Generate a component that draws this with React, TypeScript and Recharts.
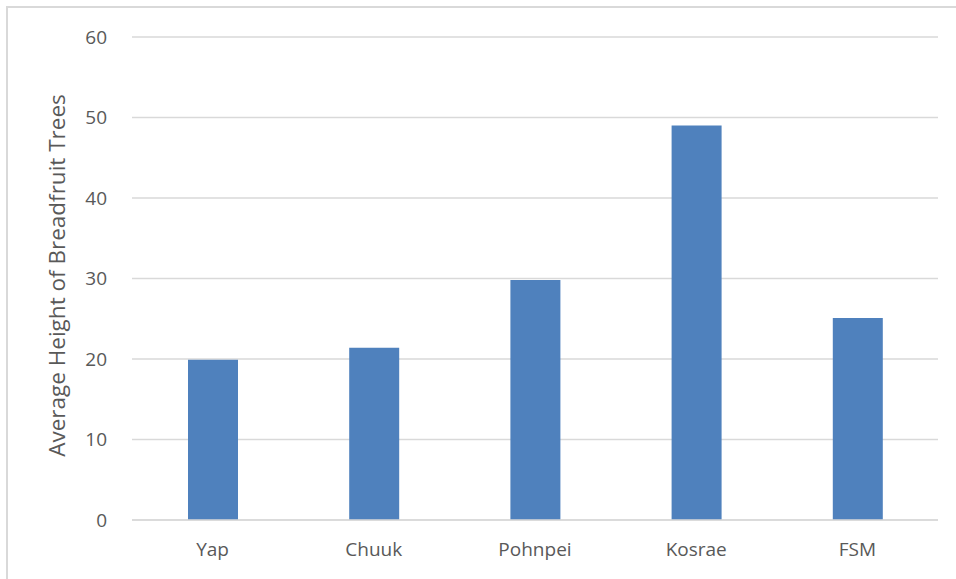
import { BarChart, Bar, XAxis, YAxis, CartesianGrid } from "recharts";

const regions = ["Yap", "Chuuk", "Pohnpei", "Kosrae", "FSM"];
const avgHeight = [19.9, 21.4, 29.8, 49.0, 25.1];
const yTicks = [0, 10, 20, 30, 40, 50, 60];

const rows = regions.map((name, i) => ({ name, height: avgHeight[i] }));

const FONT = "'Open Sans', sans-serif";
const GREY = "#595959";

export default function App() {
  return (
    <div style={{ position: "absolute", left: 0, top: 0, width: 956, height: 579, background: "#fff", overflow: "hidden" }}>
      <div style={{ position: "absolute", left: 6, top: 6, width: 1000, height: 1000, borderTop: "2px solid #d9d9d9", borderLeft: "2px solid #d9d9d9" }} />
      <BarChart
        width={956}
        height={579}
        data={rows}
        margin={{ top: 37, right: 18, bottom: 0, left: 0 }}
        style={{ position: "absolute", left: 0, top: 0, fontFamily: FONT }}
      >
        <CartesianGrid vertical={false} stroke="#d9d9d9" strokeWidth={1.5} />
        <XAxis
          dataKey="name"
          axisLine={{ stroke: "#d9d9d9", strokeWidth: 1.5 }}
          tickLine={false}
          tick={{ fill: GREY, fontSize: 19, fontFamily: FONT }}
          tickMargin={17}
          height={59}
        />
        <YAxis
          domain={[0, 60]}
          ticks={yTicks}
          axisLine={false}
          tickLine={false}
          tick={{ fill: GREY, fontSize: 19, fontFamily: FONT }}
          tickMargin={19}
          width={132}
          label={{
            value: "Average Height of Breadfruit Trees",
            angle: -90,
            position: "insideLeft",
            offset: 57,
            dy: -3,
            style: { fill: GREY, fontSize: 22.5, fontFamily: FONT, textAnchor: "middle" },
          }}
        />
        <Bar dataKey="height" fill="#4f81bd" barSize={50} isAnimationActive={false} />
      </BarChart>
    </div>
  );
}
